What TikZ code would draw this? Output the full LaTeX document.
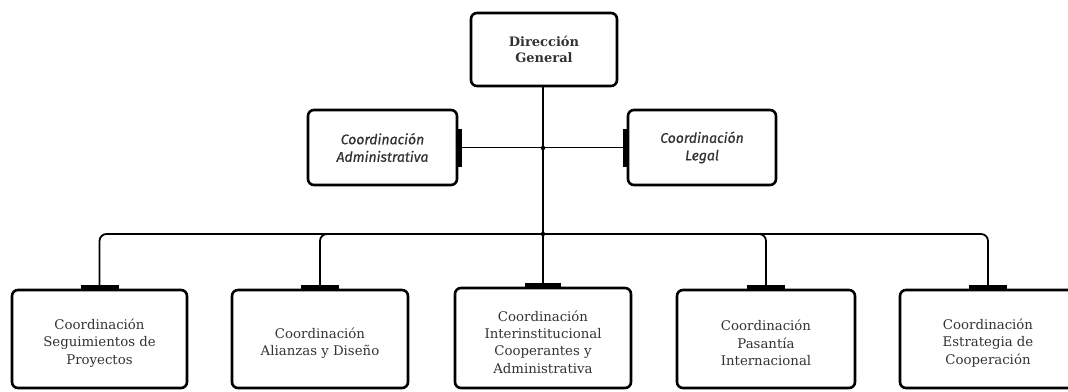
\documentclass[tikz,border=0pt]{standalone}
\usepackage{fontspec}
\setmainfont{DejaVu Serif}
\newfontfamily\midfont{Fira Sans}[FakeBold=0.6]
\begin{document}
\begin{tikzpicture}[x=1pt,y=-1pt,
  box/.style={draw=black, line width=2.6pt, rounded corners=6pt, fill=white, align=center, inner sep=0pt, text=black!80},
  topbox/.style={box, font=\fontsize{13}{15.5}\selectfont\bfseries},
  midbox/.style={box, font=\midfont\itshape\fontsize{14}{17.5}\selectfont},
  lowbox/.style={box},
  ltext/.style={align=center, yshift=-4pt, text=black!80, font=\fontsize{13.3}{17.3}\selectfont},
  conn/.style={draw=black, line width=1.8pt},
  stub/.style={draw=black, line width=4.5pt},
  jdot/.style={circle, fill=black, inner sep=0pt, minimum size=4.5pt}
]
\useasboundingbox (0,0) rectangle (1068,391);
% nodes
\node[topbox, minimum width=146pt, minimum height=73pt] (dg) at (544,49.5) {Dirección\\General};
\node[midbox, minimum width=149pt, minimum height=75pt] (adm) at (382.5,147.5) {Coordinación\\Administrativa};
\node[midbox, minimum width=148pt, minimum height=75pt] (leg) at (702,147.5) {Coordinación\\Legal};
\node[lowbox, minimum width=175pt, minimum height=98pt, label={[ltext]center:Coordinación\\Seguimientos de\\Proyectos}] (b1) at (99.5,339) {};
\node[lowbox, minimum width=176pt, minimum height=98pt, label={[ltext]center:Coordinación\\Alianzas y Diseño}] (b2) at (320,339) {};
\node[lowbox, minimum width=176pt, minimum height=100pt, label={[ltext]center:Coordinación\\Interinstitucional\\Cooperantes y\\Administrativa}] (b3) at (543,338) {};
\node[lowbox, minimum width=178pt, minimum height=98pt, label={[ltext]center:Coordinación\\Pasantía\\Internacional}] (b4) at (766,339) {};
\node[lowbox, minimum width=176pt, minimum height=98pt, label={[ltext]center:Coordinación\\Estrategia de\\Cooperación}] (b5) at (988,339) {};
% junctions
\coordinate (mid) at (543,148);
\coordinate (bus) at (543,234);
% connectors
\draw[conn] (dg.south -| bus) -- (bus);
\draw[conn] (adm.east) -- (leg.west);
\draw[conn, rounded corners=7pt] (bus) -| (b1.north);
\draw[conn, rounded corners=7pt] (bus) -| (b2.north);
\draw[conn] (bus) -- (b3.north -| bus);
\draw[conn, rounded corners=7pt] (bus) -| (b4.north);
\draw[conn, rounded corners=7pt] (bus) -| (b5.north);
% stubs
\foreach \b in {b1,b2,b4,b5}{
  \draw[stub] ([xshift=-19pt,yshift=1pt]\b.north) -- ([xshift=19pt,yshift=1pt]\b.north);
}
\draw[stub] ([xshift=-18pt,yshift=1pt]b3.north -| bus) -- ([xshift=18pt,yshift=1pt]b3.north -| bus);
\draw[stub] ([xshift=1pt,yshift=-19pt]adm.east) -- ([xshift=1pt,yshift=19pt]adm.east);
\draw[stub] ([xshift=-1pt,yshift=-19pt]leg.west) -- ([xshift=-1pt,yshift=19pt]leg.west);
\node[jdot] (j1) at (mid) {};
\node[jdot] (j2) at (bus) {};
\end{tikzpicture}
\end{document}
